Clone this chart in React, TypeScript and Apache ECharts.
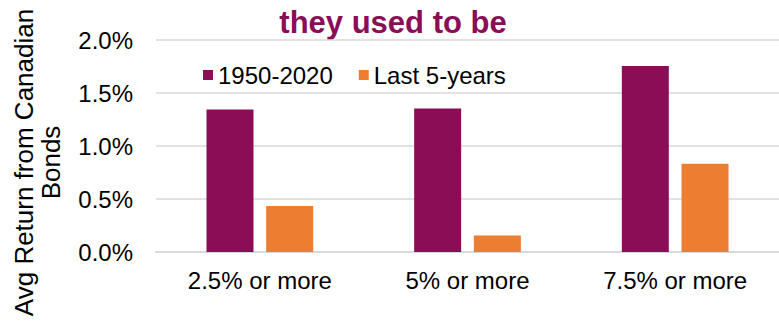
import React, { useEffect, useRef } from "react";
import * as echarts from "echarts";

const categories = ["2.5% or more", "5% or more", "7.5% or more"];
const seriesNames = ["1950-2020", "Last 5-years"];
const longRunValues = [1.344, 1.354, 1.755];
const recentValues = [0.434, 0.156, 0.832];
const yTicks = { min: 0, max: 2.0, interval: 0.5 };
const titleText = "they used to be";
const yTitleLines = ["Avg Return from Canadian", "Bonds"];

const PURPLE = "#8A0D56";
const ORANGE = "#ED7D31";
const FONT = "'Liberation Sans', Arial, sans-serif";

export default function App() {
  const ref = useRef<HTMLDivElement>(null);
  useEffect(() => {
    if (!ref.current) return;
    const chart = echarts.init(ref.current, undefined, { renderer: "svg" });
    chart.setOption({
      animation: false,
      backgroundColor: "#ffffff",
      textStyle: { fontFamily: FONT },
      grid: { left: 156, top: 40, width: 629, height: 212, containLabel: false },
      legend: {
        left: 198,
        top: 58,
        icon: "rect",
        itemWidth: 10,
        itemHeight: 10,
        itemGap: 26,
        textStyle: { fontSize: 24, color: "#000", fontFamily: FONT },
        data: seriesNames,
      },
      xAxis: {
        type: "category",
        data: categories,
        axisLine: { lineStyle: { color: "#D9D9D9", width: 2 } },
        axisTick: { show: false },
        axisLabel: { fontSize: 24, color: "#000", margin: 16, fontFamily: FONT },
      },
      yAxis: {
        type: "value",
        min: yTicks.min,
        max: yTicks.max,
        interval: yTicks.interval,
        axisLine: { show: false },
        axisTick: { show: false },
        splitLine: { lineStyle: { color: "#D9D9D9", width: 1.5 } },
        axisLabel: {
          fontSize: 24,
          color: "#000",
          margin: 23,
          fontFamily: FONT,
          formatter: (v: number) => v.toFixed(1) + "%",
        },
      },
      series: [
        {
          name: seriesNames[0],
          type: "bar",
          data: longRunValues,
          barWidth: 47,
          barGap: "27%",
          itemStyle: { color: PURPLE },
        },
        {
          name: seriesNames[1],
          type: "bar",
          data: recentValues,
          barWidth: 47,
          barGap: "27%",
          itemStyle: { color: ORANGE },
        },
      ],
      graphic: [
        {
          type: "text",
          x: 393,
          y: 22,
          style: {
            text: titleText,
            fontSize: 31,
            fontWeight: "bold",
            fill: PURPLE,
            fontFamily: FONT,
            align: "center",
            verticalAlign: "middle",
          },
        },
        {
          type: "text",
          x: 37.5,
          y: 162.5,
          rotation: Math.PI / 2,
          style: {
            text: yTitleLines.join("\n"),
            fontSize: 26,
            lineHeight: 27,
            fill: "#000",
            fontFamily: FONT,
            align: "center",
            verticalAlign: "middle",
          },
        },
      ],
    });
    return () => chart.dispose();
  }, []);
  return (
    <div
      ref={ref}
      style={{ position: "absolute", left: 0, top: 0, width: 779, height: 323 }}
    />
  );
}
